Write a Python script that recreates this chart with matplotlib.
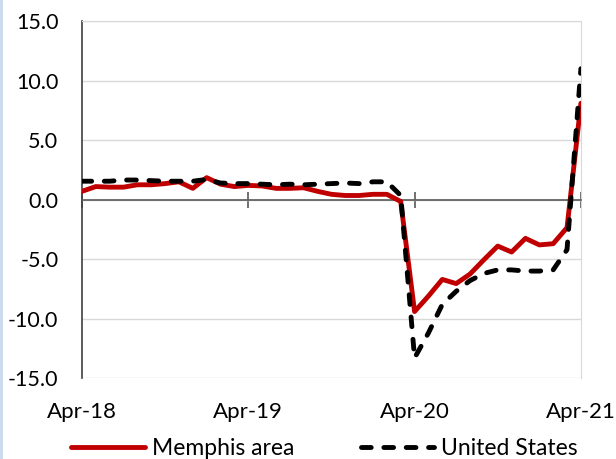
import matplotlib
matplotlib.use("Agg")
import matplotlib.pyplot as plt
from matplotlib.lines import Line2D
import numpy as np

# Year-over-year employment change (%), monthly Apr-18 .. Apr-21
memphis = [0.7, 1.1, 1.05, 1.05, 1.25, 1.25, 1.35, 1.5, 0.95, 1.85,
           1.3, 1.1, 1.2, 1.15, 0.95, 0.95, 1.0, 0.7, 0.45, 0.35,
           0.35, 0.45, 0.45, -0.15, -9.4, -8.1, -6.7, -7.05, -6.25, -5.05,
           -3.9, -4.4, -3.25, -3.8, -3.7, -2.35, 8.1]
united_states = [1.55, 1.55, 1.55, 1.65, 1.65, 1.6, 1.55, 1.55, 1.55, 1.7,
                 1.4, 1.35, 1.35, 1.3, 1.25, 1.3, 1.25, 1.3, 1.35, 1.4,
                 1.35, 1.5, 1.5, 0.35, -13.3, -11.2, -8.8, -7.7, -6.8, -6.2,
                 -5.9, -5.9, -6.0, -6.0, -5.9, -4.2, 11.0]
tick_pos = [0, 12, 24, 36]
tick_labels = ["Apr-18", "Apr-19", "Apr-20", "Apr-21"]

plt.rcParams["font.family"] = ["Lato", "DejaVu Sans"]
plt.rcParams["axes.unicode_minus"] = False

fig = plt.figure(figsize=(6.16, 4.59), dpi=100)
ax = fig.add_axes([0.133, 0.176, 0.81, 0.778])

months = np.arange(len(memphis))
ax.plot(months, memphis, color="#C00000", lw=3.5, label="Memphis area",
        solid_capstyle="round", solid_joinstyle="round", zorder=3)
ax.plot(months, united_states, color="black", lw=3.5, label="United States",
        linestyle=(0, (2.0, 2.6)), dash_capstyle="round", zorder=4)

ax.set_xlim(0, 36)
ax.set_ylim(-15, 15)
ax.set_yticks([-15, -10, -5, 0, 5, 10, 15])
ax.set_yticklabels([f"{v:.1f}" for v in [-15, -10, -5, 0, 5, 10, 15]])
ax.tick_params(axis="y", length=0, pad=17, labelsize=15.5)
ax.yaxis.grid(True, color="#d9d9d9", lw=1)
ax.set_axisbelow(True)

for s in ["top", "right"]:
    ax.spines[s].set_color("#d9d9d9")
ax.spines["left"].set_color("#404040")
ax.spines["left"].set_linewidth(1.2)

# category axis crosses at zero, labels stay low
ax.spines["bottom"].set_position(("data", 0))
ax.spines["bottom"].set_color("#595959")
ax.spines["bottom"].set_linewidth(1.2)
ax.set_xticks(tick_pos)
ax.tick_params(axis="x", direction="inout", length=11, width=1.2,
               color="#595959", labelbottom=False)

sec = ax.secondary_xaxis(0)
sec.set_xticks(tick_pos)
sec.set_xticklabels(tick_labels)
sec.tick_params(length=0, pad=17, labelsize=16)
sec.spines["bottom"].set_visible(False)

ax.legend(loc="upper center", bbox_to_anchor=(0.486, -0.143), ncol=2,
          frameon=False, fontsize=16.5, handlelength=3.2,
          handletextpad=0.3, columnspacing=2.9, borderaxespad=0)

fig.add_artist(Line2D([0.002, 0.002], [0, 1], color="#c9d8ef", lw=2,
                      transform=fig.transFigure))

fig.savefig("out.png", dpi=100)
